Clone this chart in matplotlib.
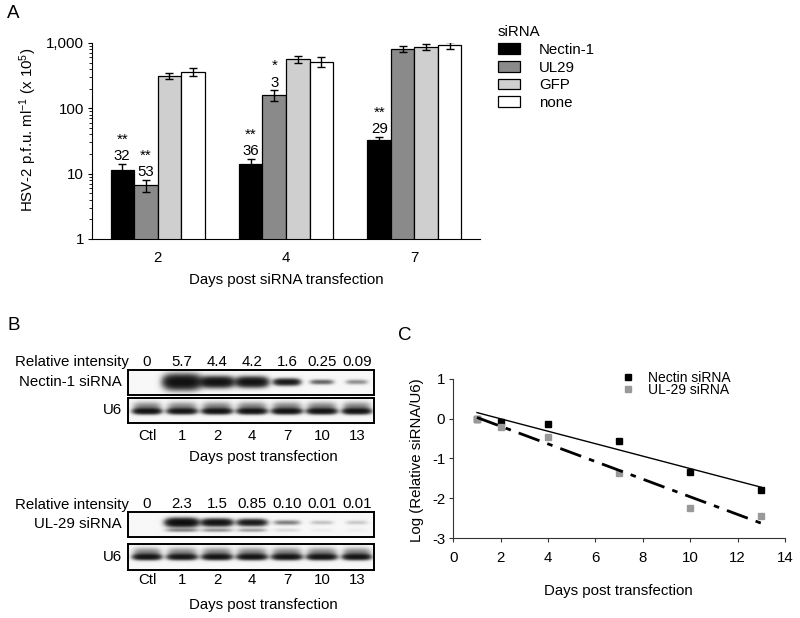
import numpy as np
import matplotlib.pyplot as plt
from matplotlib.patches import Patch
from matplotlib.ticker import NullFormatter
from matplotlib import transforms

plt.rcParams['font.family'] = ['Liberation Sans', 'DejaVu Sans']
plt.rcParams['mathtext.fontset'] = 'custom'
plt.rcParams['mathtext.rm'] = 'Liberation Sans'
plt.rcParams['mathtext.it'] = 'Liberation Sans:italic'
plt.rcParams['mathtext.bf'] = 'Liberation Sans:bold'
plt.rcParams['axes.unicode_minus'] = False

FS = 10.8
W, H = 800, 618

# ---- panel A data ----
days = ['2', '4', '7']
sirna = ['Nectin-1', 'UL29', 'GFP', 'none']
nectin_titer = [11.5, 14.0, 32.5]
nectin_err = [2.6, 2.7, 4.0]
ul29_titer = [6.6, 158, 810]
ul29_err = [1.4, 30, 80]
gfp_titer = [315, 565, 880]
gfp_err = [30, 65, 100]
none_titer = [365, 515, 930]
none_err = [50, 85, 110]
nectin_pct = ['32', '36', '29']
nectin_sig = ['**', '**', '**']
ul29_pct = ['53', '3', '']
ul29_sig = ['**', '*', '']

# ---- panel B data ----
lanes = ['Ctl', '1', '2', '4', '7', '10', '13']
nectin_rel = ['0', '5.7', '4.4', '4.2', '1.6', '0.25', '0.09']
ul29_rel = ['0', '2.3', '1.5', '0.85', '0.10', '0.01', '0.01']
# band darkness read from the blots (0 = no band, 1 = saturated)
nectin_band = [0.0, 1.0, 0.95, 0.93, 0.8, 0.3, 0.18]
ul29_band = [0.0, 1.1, 0.95, 0.8, 0.22, 0.08, 0.07]
u6a_band = [0.85, 0.8, 0.85, 0.85, 0.85, 0.85, 0.85]
u6b_band = [0.85, 0.8, 0.85, 0.85, 0.85, 0.85, 0.85]

# ---- panel C data ----
days_c = [1, 2, 4, 7, 10, 13]
nectin_log = [0.0, -0.09, -0.13, -0.56, -1.35, -1.80]
ul29_log = [0.0, -0.20, -0.45, -1.37, -2.23, -2.43]


def px(v):
    return v * 72 / 100


def rect(x0, y0, x1, y1):
    return [x0 / W, 1 - y1 / H, (x1 - x0) / W, (y1 - y0) / H]


fig = plt.figure(figsize=(8, 6.18), dpi=100)

# ================= A =================
ax = fig.add_axes(rect(92, 43, 480, 239))
x = np.arange(len(days))
bw = 0.183
series = [(nectin_titer, nectin_err, 'black'),
          (ul29_titer, ul29_err, '#8a8a8a'),
          (gfp_titer, gfp_err, '#cfcfcf'),
          (none_titer, none_err, 'white')]
for k, (vals, errs, col) in enumerate(series):
    ax.bar(x + (k - 1.5) * bw, vals, bw, color=col, edgecolor='black',
           linewidth=0.9, log=True, yerr=errs,
           error_kw=dict(ecolor='black', elinewidth=1, capsize=3.2, capthick=1))

for k, (pcts, sigs, vals, errs) in enumerate([(nectin_pct, nectin_sig, nectin_titer, nectin_err),
                                               (ul29_pct, ul29_sig, ul29_titer, ul29_err)]):
    for i in range(len(days)):
        if not pcts[i]:
            continue
        xx = x[i] + (k - 1.5) * bw
        top = vals[i] + errs[i]
        ax.annotate(pcts[i], (xx, top), xytext=(0, px(3.8)), textcoords='offset points',
                    ha='center', va='baseline', fontsize=FS)
        ax.annotate(sigs[i], (xx, top), xytext=(0, px(20.5)), textcoords='offset points',
                    ha='center', va='baseline', fontsize=FS)

ax.set_yscale('log')
ax.set_ylim(1, 1000)
ax.set_xlim(-0.51, 2.51)
ax.set_yticks([1, 10, 100, 1000])
ax.set_yticklabels(['1', '10', '100', '1,000'])
ax.yaxis.set_minor_formatter(NullFormatter())
ax.set_xticks(x)
ax.set_xticklabels(days)
ax.tick_params(axis='x', length=0, pad=px(12), labelsize=FS)
ax.tick_params(axis='y', which='major', direction='out', length=px(4), pad=px(4), labelsize=FS)
ax.tick_params(axis='y', which='minor', direction='out', length=px(3))
for s in ['top', 'right']:
    ax.spines[s].set_visible(False)
ax.set_xlabel('Days post siRNA transfection', fontsize=FS)
ax.set_ylabel('HSV-2 p.f.u. ml$^{-1}$ (x 10$^{5}$)', fontsize=FS)
ax.xaxis.set_label_coords(0.5, -0.173)
ax.yaxis.set_label_coords(-0.137, 0.556)

handles = [Patch(facecolor=c, edgecolor='black', linewidth=0.9) for _, _, c in series]
leg = ax.legend(handles, sirna, title='siRNA', loc='upper left',
                bbox_to_anchor=(498 / W, 1 - 25 / H), bbox_transform=fig.transFigure,
                frameon=False, fontsize=FS, title_fontsize=FS, handlelength=1.47,
                handleheight=0.71, handletextpad=1.27, labelspacing=0.25,
                borderpad=0, borderaxespad=0, alignment='left')

# ================= B =================
x0b, x1b = -0.543, 6.486


def blot(r, band, yc, wx, wy, halo=False, second=False):
    b = fig.add_axes(r)
    xs = np.linspace(x0b, x1b, 600)
    ys = np.linspace(0, 1, 80)
    X, Y = np.meshgrid(xs, ys)
    I = np.zeros_like(X)
    for i, d in enumerate(band):
        prof = np.exp(-(np.abs(X - i) / wx[i]) ** 4)
        I += d * prof * np.exp(-((Y - yc) / wy[i]) ** 2)
        if halo:
            I += 0.25 * d * prof * np.exp(-((Y - yc - 0.17) / 0.17) ** 2)
        if second:
            I += 0.18 * d * prof * np.exp(-((Y - 0.27) / 0.07) ** 2)
    img = 0.03 + 0.94 * (1 - np.exp(-3.2 * I))
    b.imshow(img, cmap='gray_r', vmin=0, vmax=1, extent=(x0b, x1b, 0, 1),
             origin='lower', aspect='auto', interpolation='bilinear')
    b.set_xlim(x0b, x1b)
    b.set_ylim(0, 1)
    b.set_xticks([])
    b.set_yticks([])
    for s in b.spines.values():
        s.set_linewidth(1.4)
    return b


def row_texts(b, labels, dy_px):
    tr = transforms.blended_transform_factory(b.transData, b.transAxes)
    for i, t in enumerate(labels):
        b.annotate(t, (i, 1), xycoords=tr, xytext=(0, px(dy_px)),
                   textcoords='offset points', ha='center', va='center', fontsize=FS)
    b.annotate('Relative intensity', (0, 1), xycoords='axes fraction',
               xytext=(px(1), px(dy_px)), textcoords='offset points',
               ha='right', va='center', fontsize=FS)


def side_label(b, t):
    b.annotate(t, (0, 0.5), xycoords='axes fraction', xytext=(px(-6), 0),
               textcoords='offset points', ha='right', va='center', fontsize=FS)


def lane_texts(b, dy_px, dx_px):
    tr = transforms.blended_transform_factory(b.transData, b.transAxes)
    for i, t in enumerate(lanes):
        b.annotate(t, (i, 0), xycoords=tr, xytext=(0, -px(dy_px)),
                   textcoords='offset points', ha='center', va='center', fontsize=FS)
    b.annotate('Days post transfection', (0.5, 0), xycoords='axes fraction',
               xytext=(px(dx_px), -px(34.5)), textcoords='offset points',
               ha='center', va='center', fontsize=FS)


nw = [0.4, 0.5, 0.46, 0.44, 0.36, 0.32, 0.3]
nh = [0.1, 0.26, 0.19, 0.18, 0.12, 0.09, 0.09]
uw = [0.38, 0.4, 0.4, 0.4, 0.4, 0.4, 0.38]
uh = [0.1, 0.1, 0.1, 0.1, 0.1, 0.1, 0.1]
lw_ = [0.4, 0.44, 0.42, 0.4, 0.36, 0.32, 0.3]
lh = [0.1, 0.15, 0.13, 0.12, 0.09, 0.08, 0.08]

bn = blot(rect(128, 370, 374, 395), nectin_band, 0.52, nw, nh)
row_texts(bn, nectin_rel, 8.3)
side_label(bn, 'Nectin-1 siRNA')
bu = blot(rect(128, 398, 374, 423), u6a_band, 0.45, uw, uh, halo=True)
side_label(bu, 'U6')
lane_texts(bu, 12.5, 12)

bl = blot(rect(128, 512, 374, 537), ul29_band, 0.58, lw_, lh, second=True)
row_texts(bl, ul29_rel, 7.5)
side_label(bl, 'UL-29 siRNA')
bu2 = blot(rect(128, 544, 374, 570), u6b_band, 0.5, uw, uh, halo=True)
side_label(bu2, 'U6')
lane_texts(bu2, 9.5, 12)

# ================= C =================
ac = fig.add_axes(rect(453.3, 378.7, 785, 538.3))
ac.plot(days_c, nectin_log, 's', color='black', markersize=5, label='Nectin siRNA')
ac.plot(days_c, ul29_log, 's', color='#999999', markersize=5, label='UL-29 siRNA')
for vals, ls, lw in [(nectin_log, '-', 1.0), (ul29_log, (0, (8, 3, 2, 3)), 2.0)]:
    m, c = np.polyfit(days_c, vals, 1)
    xe = np.array([days_c[0], days_c[-1]])
    ac.plot(xe, m * xe + c, color='black', linestyle=ls, linewidth=lw)
ac.set_xlim(0, 14)
ac.set_ylim(-3, 1)
ac.set_xticks(range(0, 15, 2))
ac.set_yticks([-3, -2, -1, 0, 1])
ac.tick_params(direction='out', length=px(4), pad=px(9), labelsize=FS, color='#333333')
ac.tick_params(axis='y', pad=px(4))
for s in ['top', 'right']:
    ac.spines[s].set_visible(False)
for s in ['left', 'bottom']:
    ac.spines[s].set_color('#333333')
ac.set_xlabel('Days post transfection', fontsize=FS)
ac.set_ylabel('Log (Relative siRNA/U6)', fontsize=FS)
ac.xaxis.set_label_coords(0.497, -0.286)
ac.yaxis.set_label_coords(-0.088, 0.49)
ac.legend(loc='upper left', bbox_to_anchor=(0.506, 1.05), frameon=False, fontsize=10,
          handlelength=1.0, handletextpad=0.95, labelspacing=-0.1, numpoints=1,
          borderpad=0, borderaxespad=0)

fig.text(13.5 / W, 1 - 14 / H, 'A', fontsize=13.5, ha='center', va='center')
fig.text(14 / W, 1 - 326 / H, 'B', fontsize=13.5, ha='center', va='center')
fig.text(405 / W, 1 - 335 / H, 'C', fontsize=13.5, ha='center', va='center')

fig.savefig('out.png', dpi=100)
